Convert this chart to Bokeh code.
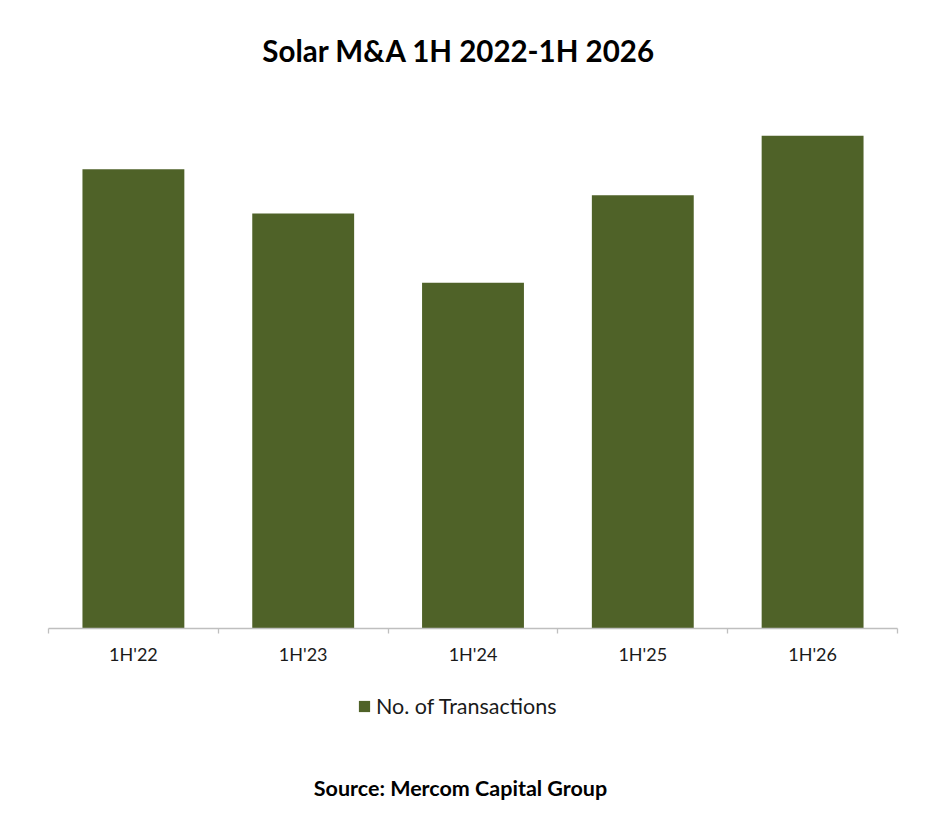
from bokeh.plotting import figure
from bokeh.models import Range1d, FixedTicker, Legend, LegendItem, Label
from bokeh.embed import file_html
from bokeh.resources import INLINE

# Data
categories = ["1H'22", "1H'23", "1H'24", "1H'25", "1H'26"]
transactions = [65.6, 59.3, 49.4, 61.9, 70.4]
title_text = "Solar M&A 1H 2022-1H 2026"
source_text = "Source: Mercom Capital Group"
series_name = "No. of Transactions"

BAR_COLOR = "#4f6228"
FONT = "Lato"

W, H = 942, 835
LEFT, RIGHT = 48, 45          # space left/right of the category axis (px)
BASE = 628                    # pixel row of the baseline
PX_PER_CAT = (W - LEFT - RIGHT) / len(categories)
PX_PER_UNIT = 7.0

n = len(categories)
centers = [i + 0.5 for i in range(n)]
bounds = [float(i) for i in range(n + 1)]

p = figure(width=W, height=H, output_backend="svg", toolbar_location=None,
           x_range=Range1d(-LEFT / PX_PER_CAT, n + RIGHT / PX_PER_CAT),
           y_range=Range1d(-(H - BASE) / PX_PER_UNIT, BASE / PX_PER_UNIT),
           min_border=0, y_axis_location=None)
p.outline_line_color = None
p.xgrid.visible = False
p.ygrid.visible = False

r = p.vbar(x=centers, top=transactions, width=0.6, fill_color=BAR_COLOR, line_color=None)

ax = p.xaxis[0]
ax.fixed_location = 0
ax.bounds = (0, n)
ax.ticker = FixedTicker(ticks=centers, minor_ticks=bounds)
ax.major_label_overrides = {c: lab for c, lab in zip(centers, categories)}
ax.major_tick_line_color = None
ax.minor_tick_line_color = "#bfbfbf"
ax.minor_tick_in = 0
ax.minor_tick_out = 5
ax.minor_tick_line_width = 1.3
ax.axis_line_color = "#bfbfbf"
ax.axis_line_width = 1.3
ax.major_label_text_font = FONT
ax.major_label_text_font_size = "18px"
ax.major_label_text_color = "#1a1a1a"
ax.major_label_standoff = 8

legend = Legend(items=[LegendItem(label=series_name, renderers=[r])],
                location=(357, H - 719), orientation="horizontal",
                padding=0, margin=0, border_line_color=None, background_fill_alpha=0,
                glyph_width=14, glyph_height=14, label_height=14, label_standoff=5,
                label_text_font=FONT, label_text_font_size="21.5px", label_text_color="#1a1a1a")
p.add_layout(legend, "center")

def x_at(px):
    return (px - LEFT) / PX_PER_CAT

def y_at(py):
    return (BASE - py) / PX_PER_UNIT

p.add_layout(Label(x=x_at(458.5), y=y_at(50), text=title_text, text_font=FONT,
                   text_font_size="29.5px", text_font_style="bold", text_align="center",
                   text_baseline="middle", text_color="#000000"))
p.add_layout(Label(x=x_at(460), y=y_at(787), text=source_text, text_font=FONT,
                   text_font_size="21.5px", text_font_style="bold", text_align="center",
                   text_baseline="middle", text_color="#000000"))

open("out.html", "w").write(file_html(p, INLINE))
